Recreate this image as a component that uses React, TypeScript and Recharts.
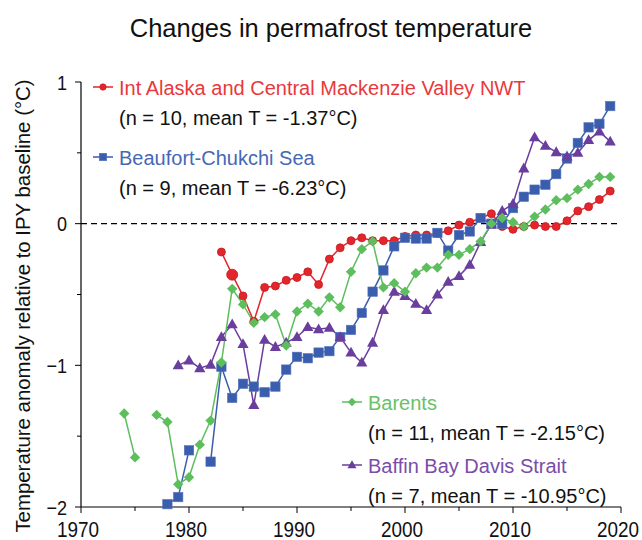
import { LineChart, Line, XAxis, YAxis, ReferenceLine } from 'recharts'

// years covered by the series (1974 - 2019)
const years = [
    1974, 1975, 1976, 1977, 1978, 1979, 1980, 1981, 1982, 1983, 1984, 1985, 1986, 1987, 1988,
    1989, 1990, 1991, 1992, 1993, 1994, 1995, 1996, 1997, 1998, 1999, 2000, 2001, 2002, 2003,
    2004, 2005, 2006, 2007, 2008, 2009, 2010, 2011, 2012, 2013, 2014, 2015, 2016, 2017, 2018,
    2019,
]

// Int Alaska and Central Mackenzie Valley NWT
const alaska = [
    null, null, null, null, null, null, null, null, null, -0.2, -0.36, -0.51, -0.69, -0.45, -0.44,
    -0.4, -0.38, -0.34, -0.43, -0.25, -0.17, -0.12, -0.1, -0.12, -0.12, -0.12, -0.09, -0.08, -0.08,
    -0.07, -0.05, -0.01, 0.01, 0.04, 0.07, -0.02, -0.04, -0.02, -0.01, -0.02, -0.02, 0.02, 0.09,
    0.12, 0.17, 0.23,
]

// Beaufort-Chukchi Sea
const beaufort = [
    null, null, null, null, -1.98, -1.93, -1.6, null, -1.68, -1.01, -1.23, -1.13, -1.15, -1.19,
    -1.15, -1.03, -0.94, -0.95, -0.91, -0.9, -0.8, -0.75, -0.63, -0.48, -0.33, -0.16, -0.1, -0.105,
    -0.105, -0.065, -0.19, -0.08, -0.055, 0.04, 0.0, 0.0, 0.11, 0.19, 0.24, 0.275, 0.35, 0.46, 0.57,
    0.68, 0.705, 0.83,
]

// Barents
const barents = [
    -1.34, -1.65, null, -1.35, -1.4, -1.84, -1.79, -1.56, -1.39, -0.98, -0.46, -0.57, -0.7, -0.66,
    -0.64, -0.86, -0.62, -0.565, -0.62, -0.52, -0.59, -0.34, -0.18, -0.125, -0.45, -0.42, -0.48,
    -0.35, -0.31, -0.31, -0.22, -0.22, -0.18, -0.125, 0.0, 0.04, 0.01, -0.02, 0.05, 0.1, 0.165,
    0.18, 0.24, 0.28, 0.33, 0.33,
]

// Baffin Bay Davis Strait
const baffin = [
    null, null, null, null, null, -1.0, -0.965, -1.02, -0.995, -0.8, -0.71, -0.85, -1.28, -0.82,
    -0.87, -0.84, -0.8, -0.73, -0.745, -0.735, -0.8, -0.91, -0.98, -0.84, -0.61, -0.48, -0.51,
    -0.565, -0.61, -0.5, -0.41, -0.37, -0.29, -0.13, -0.005, 0.09, 0.14, 0.39, 0.61, 0.55, 0.505,
    0.475, 0.5, 0.59, 0.65, 0.58,
]

const xTicks = [1970, 1975, 1980, 1985, 1990, 1995, 2000, 2005, 2010, 2015, 2020]
const yTicks = [-2, -1.5, -1, -0.5, 0, 0.5, 1]

const legendItems = [
    { key: 'alaska', label: 'Int Alaska and Central Mackenzie Valley NWT', stats: '(n = 10, mean T = -1.37°C)' },
    { key: 'beaufort', label: 'Beaufort-Chukchi Sea', stats: '(n = 9, mean T = -6.23°C)' },
    { key: 'barents', label: 'Barents', stats: '(n = 11, mean T = -2.15°C)' },
    { key: 'baffin', label: 'Baffin Bay Davis Strait', stats: '(n = 7, mean T = -10.95°C)' },
]

const data = years.map((year, i) => ({
    year,
    alaska: alaska[i],
    beaufort: beaufort[i],
    barents: barents[i],
    baffin: baffin[i],
}))

const FONT = "'Liberation Sans', Arial, sans-serif"

const styles: Record<string, { line: string; text: string; shape: string }> = {
    alaska: { line: '#E3262B', text: '#E8383B', shape: 'circle' },
    beaufort: { line: '#3A5DAE', text: '#4668B4', shape: 'square' },
    barents: { line: '#5DBE5D', text: '#68C268', shape: 'diamond' },
    baffin: { line: '#6A3E9E', text: '#7A4DAA', shape: 'triangle' },
}

// text squeezed horizontally (tick labels are set in a condensed face)
function NText({ x, y, sx = 1, anchor = 'start', size, children, fill = '#111' }: any) {
    return (
        <text
            transform={`translate(${x},${y}) scale(${sx},1)`}
            textAnchor={anchor}
            fontSize={size}
            fontFamily={FONT}
            fill={fill}
        >
            {children}
        </text>
    )
}

function Marker({ cx, cy, shape, color, big }: any) {
    if (shape === 'circle') {
        const r = big ? 5.5 : 4
        return <circle cx={cx} cy={cy} r={r} fill={color} stroke="#C41A1F" strokeWidth={0.8} />
    }
    if (shape === 'square') {
        return <rect x={cx - 4.7} y={cy - 4.7} width={9.4} height={9.4} fill={color} stroke="#5574BC" strokeWidth={0.6} />
    }
    if (shape === 'diamond') {
        return <path d={`M${cx},${cy - 5.2} L${cx + 5.2},${cy} L${cx},${cy + 5.2} L${cx - 5.2},${cy} Z`} fill={color} />
    }
    return <path d={`M${cx},${cy - 5.8} L${cx + 5.6},${cy + 4} L${cx - 5.6},${cy + 4} Z`} fill={color} />
}

const makeDot = (key: string) => (props: any) => {
    const { cx, cy, value, index, payload } = props
    if (value == null || cx == null || cy == null) return <g key={`${key}-${index}`} />
    const st = styles[key]
    return (
        <g key={`${key}-${index}`}>
            <Marker cx={cx} cy={cy} shape={st.shape} color={st.line} big={key === 'alaska' && payload.year === 1984} />
        </g>
    )
}

const XTick = ({ x, y, payload }: any) => {
    const major = payload.value % 10 === 0
    return (
        <g>
            <line x1={x} x2={x} y1={y} y2={y + (major ? 6 : 4)} stroke="#000" strokeWidth={1} />
            {major && (
                <NText x={x - 3} y={y + 30} sx={0.86} anchor="middle" size={22}>
                    {payload.value}
                </NText>
            )}
        </g>
    )
}

const YTick = ({ x, y, payload }: any) => {
    const major = Number.isInteger(payload.value)
    const label = payload.value < 0 ? `\u2212${Math.abs(payload.value)}` : `${payload.value}`
    return (
        <g>
            <line x1={x - (major ? 6 : 4)} x2={x} y1={y} y2={y} stroke="#000" strokeWidth={1} />
            {major && (
                <NText x={x - 14} y={y + 7.5} sx={0.86} anchor="end" size={21}>
                    {label}
                </NText>
            )}
        </g>
    )
}

// legend blocks: [x of marker start, y of first line]
const legendPos = [
    [93, 87],
    [93, 157],
    [342, 402],
    [342, 465],
]

function Legend() {
    return (
        <g>
            {legendItems.map((item, i) => {
                const [lx, ly] = legendPos[i]
                const st = styles[item.key]
                return (
                    <g key={item.key}>
                        <line x1={lx} x2={lx + 20} y1={ly} y2={ly} stroke={st.line} strokeWidth={1.5} />
                        <g transform={`translate(${lx + 10},${ly}) scale(0.8) translate(${-(lx + 10)},${-ly})`}>
                            <Marker cx={lx + 10} cy={ly} shape={st.shape} color={st.line} />
                        </g>
                        <text x={lx + 26} y={ly + 8} fontSize={20} fontFamily={FONT} fill={st.text}>
                            {item.label}
                        </text>
                        <text x={lx + 26} y={ly + 38} fontSize={20} fontFamily={FONT} fill="#111">
                            {item.stats}
                        </text>
                    </g>
                )
            })}
        </g>
    )
}

export default function App() {
    const order = ['alaska', 'beaufort', 'baffin', 'barents']
    return (
        <div style={{ position: 'absolute', left: 0, top: 0, width: 642, height: 540, background: '#fff' }}>
            <LineChart width={642} height={540} data={data} margin={{ top: 82, right: 21, bottom: 3, left: 0 }}>
                <XAxis
                    dataKey="year"
                    type="number"
                    domain={[1970, 2020]}
                    ticks={xTicks}
                    interval={0}
                    height={30}
                    tickSize={0}
                    tickMargin={0}
                    tickLine={false}
                    axisLine={{ stroke: '#000', strokeWidth: 1.2 }}
                    tick={<XTick />}
                />
                <YAxis
                    type="number"
                    domain={[-2, 1]}
                    ticks={yTicks}
                    interval={0}
                    width={81}
                    tickSize={0}
                    tickMargin={0}
                    tickLine={false}
                    axisLine={{ stroke: '#000', strokeWidth: 1.2 }}
                    tick={<YTick />}
                />
                <ReferenceLine y={0} stroke="#000" strokeWidth={1.2} strokeDasharray="6 4" />
                {order.map(key => (
                    <Line
                        key={key}
                        dataKey={key}
                        stroke={styles[key].line}
                        strokeWidth={1.5}
                        dot={makeDot(key)}
                        activeDot={false}
                        connectNulls={false}
                        isAnimationActive={false}
                        type="linear"
                    />
                ))}
            </LineChart>
            <svg width={642} height={540} style={{ position: 'absolute', left: 0, top: 0, pointerEvents: 'none' }}>
                <text x={331} y={37} textAnchor="middle" fontSize={25.5} fontFamily={FONT} fill="#111">
                    Changes in permafrost temperature
                </text>
                <text
                    transform="translate(30,306) rotate(-90)"
                    textAnchor="middle"
                    fontSize={20.4}
                    fontFamily={FONT}
                    fill="#111"
                >
                    Temperature anomaly relative to IPY baseline (°C)
                </text>
                <Legend />
            </svg>
        </div>
    )
}
